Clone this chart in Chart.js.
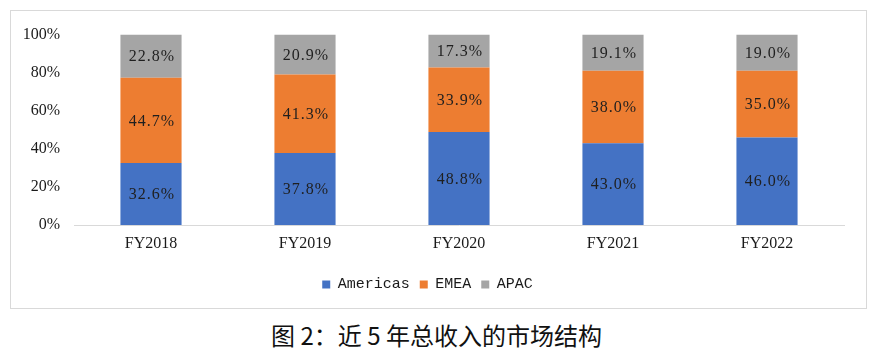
<!DOCTYPE html>
<html>
<head>
<meta charset="utf-8">
<script src="https://cdn.jsdelivr.net/npm/chart.js@4/dist/chart.umd.min.js"></script>
<style>
  html, body { margin: 0; padding: 0; background: #ffffff; }
  body { width: 876px; height: 358px; position: relative; overflow: hidden; }
  #box { position: absolute; left: 10px; top: 10px; width: 855px; height: 297px; border: 1px solid #d9d9d9; }
  #box canvas { display: block; }
  #title { position: absolute; left: 0; top: 320px; width: 873px; text-align: center;
    font-family: "Noto Sans CJK SC", sans-serif; font-size: 24px; line-height: 30px; color: #111111; }
</style>
</head>
<body>
<div id="box"><canvas id="c" width="855" height="297"></canvas></div>
<div id="title">图 2：近 5 年总收入的市场结构</div>
<script>
const categories = ["FY2018", "FY2019", "FY2020", "FY2021", "FY2022"];
const americas = [32.6, 37.8, 48.8, 43.0, 46.0];
const emea = [44.7, 41.3, 33.9, 38.0, 35.0];
const apac = [22.8, 20.9, 17.3, 19.1, 19.0];
const yTicks = [0, 20, 40, 60, 80, 100];

const labelPlugin = {
  id: 'barLabels',
  afterDatasetsDraw(chart) {
    const ctx = chart.ctx;
    ctx.save();
    ctx.font = '16px "Liberation Serif", serif';
    try { ctx.letterSpacing = '1px'; } catch (e) {}
    ctx.fillStyle = '#1f1f1f';
    ctx.textAlign = 'center';
    ctx.textBaseline = 'middle';
    chart.data.datasets.forEach((ds, i) => {
      const meta = chart.getDatasetMeta(i);
      meta.data.forEach((bar, j) => {
        const y = (bar.y + bar.base) / 2;
        ctx.fillText(ds.data[j].toFixed(1) + '%', bar.x + 1, y + 1);
      });
    });
    ctx.restore();
  }
};

new Chart(document.getElementById('c'), {
  type: 'bar',
  data: {
    labels: categories,
    datasets: [
      { label: 'Americas', data: americas, backgroundColor: '#4472C4' },
      { label: 'EMEA', data: emea, backgroundColor: '#ED7D31' },
      { label: 'APAC', data: apac, backgroundColor: '#A5A5A5' }
    ]
  },
  options: {
    responsive: false,
    animation: false,
    layout: { padding: { top: 20, right: 22, left: 0, bottom: 6 } },
    datasets: { bar: { categoryPercentage: 1.0, barPercentage: 0.397 } },
    scales: {
      x: {
        stacked: true,
        grid: { display: false, drawTicks: false },
        border: { display: true, color: '#d9d9d9', width: 1 },
        ticks: { color: '#1a1a1a', font: { family: '"Liberation Serif", serif', size: 16 }, padding: 9 },
        afterFit(s) { s.height = 42; }
      },
      y: {
        stacked: true,
        min: 0, max: 100,
        afterBuildTicks(s) { s.ticks = yTicks.map(v => ({ value: v })); },
        grid: { display: false, drawTicks: false },
        border: { display: false },
        ticks: { color: '#1a1a1a', font: { family: '"Liberation Serif", serif', size: 16 }, padding: 14,
          callback: v => v + '%' },
        afterFit(s) { s.width = 63; }
      }
    },
    plugins: {
      legend: {
        position: 'bottom',
        labels: {
          boxWidth: 8, boxHeight: 8, padding: 10,
          color: '#1a1a1a',
          font: { family: '"Liberation Mono", monospace', size: 15 }
        }
      },
      tooltip: { enabled: false }
    }
  },
  plugins: [labelPlugin]
});
</script>
</body>
</html>
